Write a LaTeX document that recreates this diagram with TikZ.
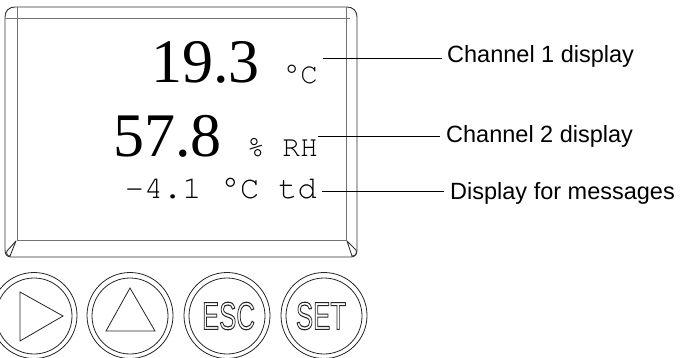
\documentclass[tikz,border=0pt]{standalone}
\usepackage{fontspec}
\usepackage{graphicx}
\setmainfont{Liberation Serif}
\setsansfont{Liberation Sans}
\newfontfamily\dispmono{TeX Gyre Cursor}
\newcommand\btnlabel[1]{\scalebox{0.66}[1]{\special{pdf:literal direct 1 Tr 1.1 w}#1\special{pdf:literal direct 0 Tr}}}
\begin{document}
\begin{tikzpicture}[x=1pt,y=-1pt,
  frameout/.style={draw=black!80,line width=0.9pt,line join=round},
  framein/.style={draw=black!55,line width=0.9pt},
  leader/.style={draw=black,line width=1pt},
  lbl/.style={font=\sffamily\fontsize{23.5}{26}\selectfont,anchor=base west,inner sep=0pt},
  big/.style={font=\rmfamily\fontsize{62}{62}\selectfont,anchor=base west,inner sep=0pt},
  monotext/.style={font=\dispmono\fontsize{#1}{#1}\selectfont,anchor=base east,inner sep=0pt},
  btnout/.style={circle,draw=black!85,line width=0.8pt,minimum size=86pt,inner sep=0pt},
  btnin/.style={circle,draw=black!85,line width=0.8pt,minimum size=76pt,inner sep=0pt},
  btnshape/.style={draw=black!85,line width=0.8pt,line join=miter},
  btntext/.style={font=\sffamily\fontsize{39}{39}\selectfont,inner sep=0pt,text=black!85}]
\useasboundingbox (0,0) rectangle (682,358);
% housing frame
\draw[frameout] (5,17) .. controls (5,11) and (9,7) .. (15,7) -- (347,7)
  .. controls (353,7) and (357,11) .. (357,17) -- (357,250)
  .. controls (357,254) and (355,257) .. (351,257) -- (11,257)
  .. controls (7,257) and (5,254) .. (5,250) -- cycle;
\draw[framein] (17,7) -- (17,240) -- (346,240) -- (346,7);
\draw[framein] (5,18) -- (350,18);
\draw[frameout] (16,241) -- (7,251) .. controls (6,254) and (7,256) .. (10,256) -- cycle;
\draw[frameout] (347,241) -- (356,250) .. controls (357,253) and (356,256) .. (352,256) -- cycle;
% display contents
\node[big] (v1) at (151,83) {19.3};
\node[monotext=29] (u1) at (318,84) {°C};
\node[big] (v2) at (113,157) {57.8};
\node[monotext=29.5] (u2) at (318,157) {\% RH};
\node[monotext=32] (msg) at (317,198) {-4.1 °C td};
% labels
\node[lbl] (l1) at (447,63) {Channel 1 display};
\node[lbl] (l2) at (446,143) {Channel 2 display};
\node[lbl] (l3) at (450,200) {Display for messages};
\coordinate (s1) at (323,58.3);
\coordinate (s2) at (318,136.3);
\coordinate (s3) at (322,191.6);
\draw[leader] (s1) -- ([xshift=-5pt]s1 -| l1.west);
\draw[leader] (s2) -- ([xshift=-6pt]s2 -| l2.west);
\draw[leader] (s3) -- ([xshift=-6pt]s3 -| l3.west);
% buttons
\foreach \n/\x in {1/34,2/130,3/227,4/324}{
  \node[btnout] (b\n) at (\x,315.5) {};
  \node[btnin] (bi\n) at (\x,316) {};
}
\draw[btnshape] (20,292) -- (20,341) -- (63,316) -- cycle;
\draw[btnshape] (130,288) -- (106,331) -- (155,331) -- cycle;
\node[btntext] (esc) at (228.5,316) {\btnlabel{ESC}};
\node[btntext] (set) at (321,316) {\btnlabel{SET}};
\end{tikzpicture}
\end{document}
